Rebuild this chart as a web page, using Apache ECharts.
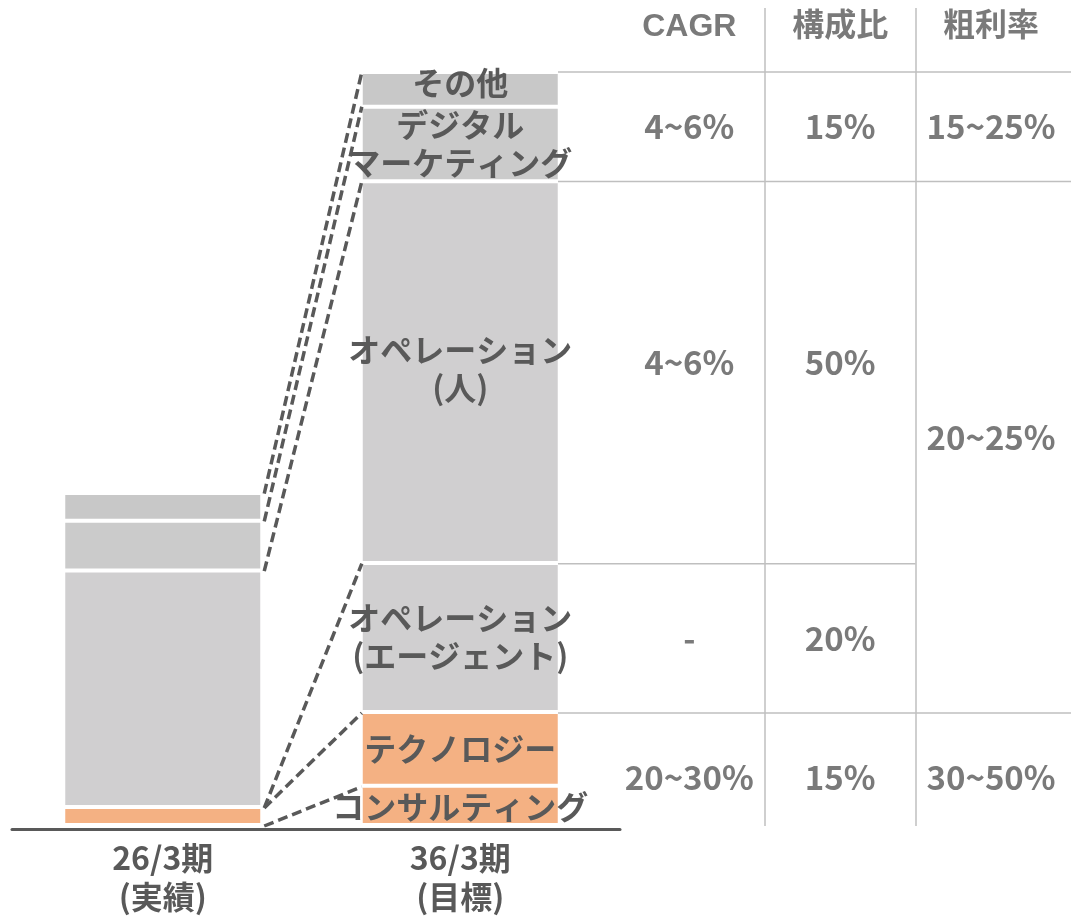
<!DOCTYPE html>
<html><head><meta charset="utf-8">
<script src="https://cdn.jsdelivr.net/npm/echarts@6/dist/echarts.min.js"></script>
<style>html,body{margin:0;padding:0;background:#fff}#c{width:1071px;height:916px}</style>
</head><body><div id="c"></div>
<script>
// ---- data ----
const categories = ['26/3期\n(実績)', '36/3期\n(目標)'];
const segmentNames = ['コンサルティング', 'テクノロジー', 'オペレーション\n(エージェント)', 'オペレーション\n(人)', 'デジタル\nマーケティング', 'その他'];
const actualValues = [2.4, 0, 0, 31.4, 6.6, 3.7];
const targetValues = [5.2, 9.8, 19.8, 50.7, 9.9, 4.6];
// connector pairs: [level index on actual bar, level index on target bar]
const connectors = [[6, 6], [5, 5], [4, 4], [3, 3], [2, 2], [0, 1]];
const tableHeaders = ['CAGR', '構成比', '粗利率'];
// cells: [from level, to level, text] on target bar
const cagrCells = [[4, 6, '4~6%'], [3, 4, '4~6%'], [2, 3, '-'], [0, 2, '20~30%']];
const shareCells = [[4, 6, '15%'], [3, 4, '50%'], [2, 3, '20%'], [0, 2, '15%']];
const marginCells = [[4, 6, '15~25%'], [2, 4, '20~25%'], [0, 2, '30~50%']];
// horizontal rules: [level, last column boundary]
const tableRules = [[6, 3], [4, 3], [3, 2], [2, 3]];

// ---- styling / layout ----
const FONT = "'Noto Sans CJK JP', 'Noto Sans', sans-serif";
const LATIN_FONT = "'Liberation Sans', 'Noto Sans CJK JP', sans-serif";
const TXT = '#595959';
const RULE = '#bfbfbf';
const segmentColors = ['#f4b183', '#f4b183', '#d0cfd0', '#d0cfd0', '#cbcbcb', '#c8c8c8'];
const segmentLabelOffsets = [[0, 1], [0, 0], [0, -1], [0, -3], [0, 0], [0, -6]];
const cellNudge = { '3-4': -10, '2-4': -10, '0-2': 8 };
const Y_MAX = 108.5;
const HEADER_Y = 106;
const BAR_HALF = 0.331;
const X2_MIN = -0.37, X2_MAX = 3.03;

function levels(vals) {
  const out = [0];
  vals.forEach(v => out.push(out[out.length - 1] + v));
  return out;
}
const LA = levels(actualValues);
const LT = levels(targetValues);

const series = [];
segmentNames.forEach((name, i) => {
  series.push({
    type: 'bar', name: name, stack: 'total', xAxisIndex: 0, yAxisIndex: 0,
    barWidth: 199,
    itemStyle: { color: segmentColors[i], borderColor: '#fff', borderWidth: 2 },
    label: { show: false, position: 'inside', offset: segmentLabelOffsets[i], formatter: '{a}', color: TXT, fontSize: 32, fontWeight: 'bold', fontFamily: FONT, lineHeight: 38 },
    data: [
      { value: actualValues[i] },
      { value: targetValues[i], label: { show: true } }
    ],
    silent: true
  });
});

connectors.forEach(([a, b]) => {
  series.push({
    type: 'line', xAxisIndex: 2, yAxisIndex: 2, symbol: 'none', silent: true, z: 5,
    lineStyle: { color: TXT, width: 3.5, type: [10, 5] },
    data: [[0 + BAR_HALF + 0.01, LA[a]], [1 - BAR_HALF, LT[b]]]
  });
});

tableRules.forEach(([lv, toCol], k) => {
  const s = {
    type: 'line', xAxisIndex: 1, yAxisIndex: 1, symbol: 'none', silent: true,
    lineStyle: { color: RULE, width: 1.5 },
    data: [[X2_MIN, LT[lv]], [toCol >= 3 ? X2_MAX : toCol, LT[lv]]]
  };
  if (k === 0) {
    s.markLine = {
      silent: true, symbol: 'none', label: { show: false },
      lineStyle: { color: RULE, width: 1.5, type: 'solid' },
      data: [{ xAxis: 1 }, { xAxis: 2 }]
    };
  }
  series.push(s);
});

const cellData = [];
tableHeaders.forEach((h, c) => cellData.push({
  value: [c + 0.5, HEADER_Y], name: h,
  label: { fontFamily: LATIN_FONT, fontSize: 32 }
}));
[cagrCells, shareCells, marginCells].forEach((cells, c) => {
  cells.forEach(([a, b, t]) => cellData.push({
    value: [c + 0.5, (LT[a] + LT[b]) / 2], name: t,
    label: { offset: [0, cellNudge[a + '-' + b] || 0] }
  }));
});
series.push({
  type: 'scatter', xAxisIndex: 1, yAxisIndex: 1, symbolSize: 0, silent: true,
  label: { show: true, position: 'inside', formatter: '{b}', color: TXT, fontSize: 33, fontWeight: 'bold', fontFamily: FONT },
  data: cellData
});

const chart = echarts.init(document.getElementById('c'));
chart.setOption({
  animation: false,
  backgroundColor: '#fff',
  grid: [
    { left: 14, width: 595, top: 8, bottom: 90 },
    { left: 558, right: 0, top: 8, bottom: 90 },
    { left: 12, width: 608, top: 8, bottom: 90 }
  ],
  xAxis: [
    {
      type: 'category', gridIndex: 0, data: categories,
      axisLine: { show: false }, axisTick: { show: false }, splitLine: { show: false },
      axisLabel: { color: TXT, fontSize: 32, fontWeight: 'bold', fontFamily: FONT, lineHeight: 39, margin: 13 }
    },
    { type: 'value', gridIndex: 1, min: X2_MIN, max: X2_MAX, show: false },
    {
      type: 'value', gridIndex: 2, min: -0.507, max: 1.537, offset: 3,
      axisLine: { show: true, onZero: false, lineStyle: { color: TXT, width: 3 } },
      axisTick: { show: false }, splitLine: { show: false }, axisLabel: { show: false }
    }
  ],
  yAxis: [
    { type: 'value', gridIndex: 0, min: 0, max: Y_MAX, show: false },
    { type: 'value', gridIndex: 1, min: 0, max: Y_MAX, show: false },
    { type: 'value', gridIndex: 2, min: 0, max: Y_MAX, show: false }
  ],
  series: series
});
</script></body></html>
